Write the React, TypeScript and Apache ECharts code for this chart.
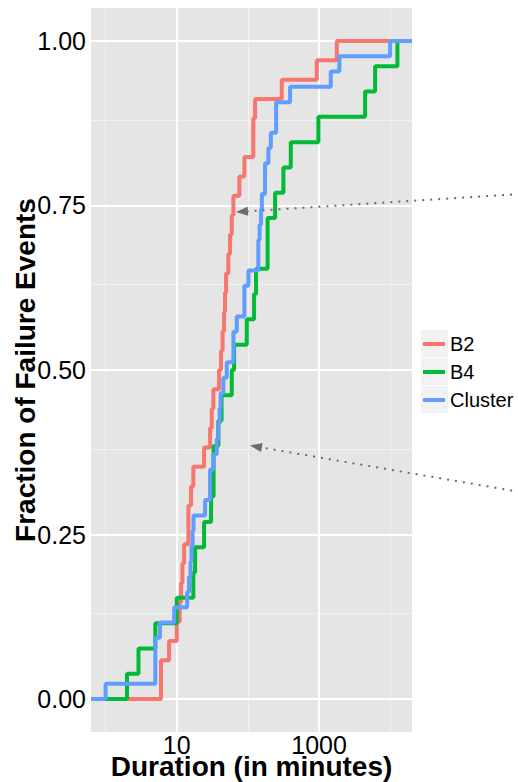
import React, { useEffect, useRef } from "react";
import * as echarts from "echarts";

// ---- data (durations in minutes) ----
const SERIES_NAMES = ["B2", "B4", "Cluster"];
const SERIES_COLORS = ["#F8766D", "#00BA38", "#619CFF"];

const B2_DURATIONS = [
  6, 6, 7.8, 10, 11, 11.5, 12, 12.7, 14.6, 14.6, 15.9, 17.1, 24.2, 29.4, 31.0,
  32.7, 39.3, 41.9, 44.0, 46.2, 47.7, 49.3, 53.1, 56.1, 59.3, 62.5, 75.9, 89.2,
  119, 119, 126, 299, 928, 1774,
];
const B4_DURATIONS = [
  2, 2.9, 5, 10, 17.1, 18.1, 24.2, 30.3, 32.9, 32.9, 38.4, 42.6, 59.3, 63.9,
  96.3, 122, 130, 189, 189, 241, 315, 400, 977, 4432, 6124, 12600,
];
const CLUSTER_DURATIONS = [
  1, 5, 5, 5, 5.8, 9.2, 14, 14.9, 15.6, 16.1, 16.7, 17.2, 25, 29.4, 29.4, 32.7,
  36.5, 38.4, 40, 41.3, 45.2, 50.4, 62.5, 62.5, 69.7, 89.1, 89.1, 101.5, 140,
  140, 146, 153, 157, 174, 174, 194, 210, 249, 249, 391, 1460, 1929, 9950,
];

const X_TICK_VALUES = [10, 1000];
const X_MINOR_VALUES = [1, 100, 10000];
const Y_TICK_VALUES = [0, 0.25, 0.5, 0.75, 1];
const Y_MINOR_VALUES = [0.125, 0.375, 0.625, 0.875];

const FONT = "'Liberation Sans', Arial, Helvetica, sans-serif";

function ecdf(durations: number[], xMin: number, xMax: number) {
  const sorted = [...durations].sort((a, b) => a - b);
  const n = sorted.length;
  const pts: number[][] = [[xMin, 0]];
  sorted.forEach((d, i) => pts.push([Math.log10(d), (i + 1) / n]));
  pts.push([xMax, 1]);
  return pts;
}

function arrowHead(tail: number[], tip: number[], len: number, half: number) {
  const dx = tail[0] - tip[0];
  const dy = tail[1] - tip[1];
  const l = Math.hypot(dx, dy);
  const ux = dx / l;
  const uy = dy / l;
  const bx = tip[0] + ux * len;
  const by = tip[1] + uy * len;
  return {
    base: [bx, by],
    pts: [
      [tip[0], tip[1]],
      [bx - uy * half, by + ux * half],
      [bx + uy * half, by - ux * half],
    ],
  };
}

const ARROWS = [
  { tail: [520, 194], tip: [236, 212] },
  { tail: [520, 492], tip: [250, 445.5] },
];

export default function App() {
  const ref = useRef<HTMLDivElement>(null);

  useEffect(() => {
    if (!ref.current) return;
    const chart = echarts.init(ref.current, undefined, { renderer: "svg" });

    const all = [...B2_DURATIONS, ...B4_DURATIONS, ...CLUSTER_DURATIONS];
    const lo = Math.log10(Math.min(...all));
    const hi = Math.log10(Math.max(...all));
    const pad = (hi - lo) * 0.05;
    const xMin = lo - pad;
    const xMax = hi + pad;

    const datasets = [B2_DURATIONS, B4_DURATIONS, CLUSTER_DURATIONS];

    const gridLines: any[] = [];
    X_MINOR_VALUES.forEach((v) =>
      gridLines.push({ xAxis: Math.log10(v), lineStyle: { color: "#F2F2F2", width: 1, type: "solid" } })
    );
    Y_MINOR_VALUES.forEach((v) =>
      gridLines.push({ yAxis: v, lineStyle: { color: "#F2F2F2", width: 1, type: "solid" } })
    );
    X_TICK_VALUES.forEach((v) =>
      gridLines.push({ xAxis: Math.log10(v), lineStyle: { color: "#FFFFFF", width: 2, type: "solid" } })
    );
    Y_TICK_VALUES.forEach((v) =>
      gridLines.push({ yAxis: v, lineStyle: { color: "#FFFFFF", width: 2, type: "solid" } })
    );

    const graphics: any[] = [];
    [0, 1, 2].forEach((i) =>
      graphics.push({
        type: "rect",
        left: 421,
        top: 330 + i * 28,
        shape: { width: 27, height: 27 },
        style: { fill: "#F2F2F2" },
        z: 0,
      })
    );
    ARROWS.forEach((a) => {
      const h = arrowHead(a.tail, a.tip, 12, 4.6);
      graphics.push({
        type: "line",
        shape: { x1: a.tail[0], y1: a.tail[1], x2: h.base[0], y2: h.base[1] },
        style: { stroke: "#6B6B6B", lineWidth: 2, lineDash: [2, 6] },
        z: 100,
      });
      graphics.push({
        type: "polygon",
        shape: { points: h.pts },
        style: { fill: "#6B6B6B" },
        z: 100,
      });
    });

    chart.setOption({
      animation: false,
      textStyle: { fontFamily: FONT },
      grid: {
        left: 91,
        right: 106,
        top: 8,
        bottom: 50,
        containLabel: false,
        outerBoundsMode: "none",
        show: true,
        backgroundColor: "#E5E5E5",
        borderWidth: 0,
      },
      legend: {
        data: SERIES_NAMES,
        orient: "vertical",
        left: 423,
        top: 330,
        padding: 0,
        itemGap: 0,
        itemWidth: 22,
        itemHeight: 4,
        icon: "rect",
        selectedMode: false,
        textStyle: { fontSize: 20, lineHeight: 28, color: "#000", fontFamily: FONT },
      },
      xAxis: {
        type: "value",
        min: xMin,
        max: xMax,
        name: "Duration (in minutes)",
        nameLocation: "middle",
        nameGap: 24,
        nameMoveOverlap: false,
        nameTextStyle: { fontSize: 28, fontWeight: "bold", color: "#000", lineHeight: 20, fontFamily: FONT },
        axisLine: { show: false },
        splitLine: { show: false },
        axisTick: {
          show: true,
          customValues: X_TICK_VALUES.map((v) => Math.log10(v)),
          length: 4,
          lineStyle: { color: "#7F7F7F", width: 1 },
        },
        axisLabel: {
          customValues: X_TICK_VALUES.map((v) => Math.log10(v)),
          formatter: (v: number) => String(Math.round(Math.pow(10, v))),
          fontSize: 25,
          lineHeight: 18,
          color: "#000",
          margin: 4,
          fontFamily: FONT,
        },
      },
      yAxis: {
        type: "value",
        min: -0.05,
        max: 1.05,
        name: "Fraction of Failure Events",
        nameLocation: "middle",
        nameGap: 56,
        nameMoveOverlap: false,
        nameTextStyle: { fontSize: 28, fontWeight: "bold", color: "#000", lineHeight: 20, fontFamily: FONT },
        axisLine: { show: false },
        splitLine: { show: false },
        axisTick: {
          show: true,
          customValues: Y_TICK_VALUES,
          length: 4,
          lineStyle: { color: "#7F7F7F", width: 1 },
        },
        axisLabel: {
          customValues: Y_TICK_VALUES,
          formatter: (v: number) => v.toFixed(2),
          fontSize: 25,
          color: "#000",
          margin: 5,
          padding: [4, 0, 0, 0],
          fontFamily: FONT,
        },
      },
      graphic: graphics,
      series: [
        {
          type: "line",
          name: "__grid",
          data: [],
          silent: true,
          z: 1,
          markLine: {
            z: 1,
            silent: true,
            symbol: ["none", "none"],
            label: { show: false },
            emphasis: { disabled: true },
            data: gridLines,
          },
        },
        ...datasets.map((d, i) => ({
          type: "line",
          name: SERIES_NAMES[i],
          step: "end",
          data: ecdf(d, xMin, xMax),
          showSymbol: false,
          symbol: "none",
          z: 2 + i,
          color: SERIES_COLORS[i],
          lineStyle: { color: SERIES_COLORS[i], width: 4 },
          emphasis: { disabled: true },
        })),
      ],
    });

    return () => chart.dispose();
  }, []);

  return (
    <div
      ref={ref}
      style={{ position: "absolute", left: 0, top: 0, width: 518, height: 782 }}
    />
  );
}
